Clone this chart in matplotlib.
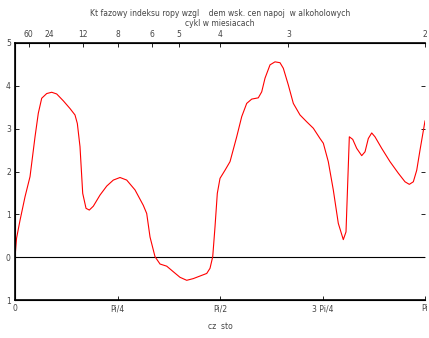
import numpy as np
import matplotlib
matplotlib.use("Agg")
import matplotlib.pyplot as plt

# frequency as fraction of pi, phase angle
freq_frac = [0.000, 0.0037, 0.0122, 0.0244, 0.0366, 0.0488, 0.0568, 0.0651, 0.0773, 0.0895,
             0.1017, 0.1178, 0.1341, 0.1463, 0.1520, 0.1585, 0.1651, 0.1732, 0.1812, 0.1910,
             0.2073, 0.2237, 0.2398, 0.2561, 0.2724, 0.2927, 0.3129, 0.3212, 0.3293, 0.3415,
             0.3537, 0.3700, 0.3861, 0.4024, 0.4188, 0.4349, 0.4512, 0.4676, 0.4756, 0.4822,
             0.4878, 0.4934, 0.5000, 0.5122, 0.5244, 0.5407, 0.5529, 0.5651, 0.5773, 0.5934,
             0.6017, 0.6098, 0.6220, 0.6341, 0.6463, 0.6544, 0.6666, 0.6788, 0.6951, 0.7115,
             0.7276, 0.7439, 0.7520, 0.7641, 0.7763, 0.7885, 0.8007, 0.8073, 0.8154, 0.8237,
             0.8334, 0.8456, 0.8537, 0.8617, 0.8700, 0.8780, 0.8944, 0.9146, 0.9349, 0.9512,
             0.9617, 0.9715, 0.9798, 0.9878, 1.0000]
phase = [0.00, 0.44, 0.86, 1.41, 1.88, 2.81, 3.36, 3.71, 3.82, 3.85,
         3.81, 3.65, 3.47, 3.32, 3.12, 2.58, 1.49, 1.14, 1.10, 1.19,
         1.45, 1.66, 1.80, 1.86, 1.80, 1.57, 1.21, 1.02, 0.47, 0.01,
         -0.16, -0.21, -0.34, -0.47, -0.54, -0.50, -0.44, -0.38, -0.26, 0.01,
         0.71, 1.49, 1.84, 2.03, 2.23, 2.81, 3.28, 3.59, 3.69, 3.72,
         3.86, 4.18, 4.49, 4.56, 4.54, 4.41, 4.02, 3.59, 3.32, 3.16,
         3.01, 2.77, 2.66, 2.23, 1.57, 0.79, 0.41, 0.59, 2.81, 2.75,
         2.54, 2.37, 2.46, 2.77, 2.90, 2.81, 2.54, 2.23, 1.96, 1.76,
         1.70, 1.76, 2.03, 2.50, 3.18]

bottom_ticks = [0, np.pi / 4, np.pi / 2, 3 * np.pi / 4, np.pi]
bottom_labels = ["0", "Pi/4", "Pi/2", "3 Pi/4", "Pi"]
cycle_months = [60, 24, 12, 8, 6, 5, 4, 3, 2]
y_ticks = [-1, 0, 1, 2, 3, 4, 5]
y_labels = ["1", "0", "1", "2", "3", "4", "5"]

txt = "#444444"
fs = 5.5

fig = plt.figure(figsize=(4.29, 3.38), dpi=100)
ax = fig.add_axes([0.035, 0.1124, 0.9557, 0.7604])

x = np.array(freq_frac) * np.pi
ax.axhline(0, color="black", lw=0.8)
ax.plot(x, phase, color="#ff0000", lw=0.8)

ax.set_xlim(0, np.pi)
ax.set_ylim(-1, 5)
ax.set_xticks(bottom_ticks)
ax.set_xticklabels(bottom_labels)
ax.set_yticks(y_ticks)
ax.set_yticklabels(y_labels)
ax.tick_params(axis="both", direction="in", length=3, width=0.6, labelsize=fs,
               labelcolor=txt, pad=3)
ax.tick_params(axis="y", right=True)
ax.spines["right"].set_visible(False)
for s in ["left", "bottom", "top"]:
    ax.spines[s].set_linewidth(1.2)
ax.set_xlabel("cz  sto", fontsize=fs, color=txt, labelpad=6)

top = ax.twiny()
top.set_xlim(0, np.pi)
top.set_xticks([2 * np.pi / p for p in cycle_months])
top.set_xticklabels([str(p) for p in cycle_months])
top.tick_params(axis="x", direction="in", length=3, width=0.6, labelsize=fs,
                labelcolor=txt, pad=3)
top.spines["right"].set_visible(False)
top.set_xlabel("cykl w miesiacach", fontsize=fs, color=txt, labelpad=3)
top.set_title("Kt fazowy indeksu ropy wzgl    dem wsk. cen napoj  w alkoholowych",
              fontsize=fs, color=txt, pad=2)

fig.savefig("out.png", dpi=100)
